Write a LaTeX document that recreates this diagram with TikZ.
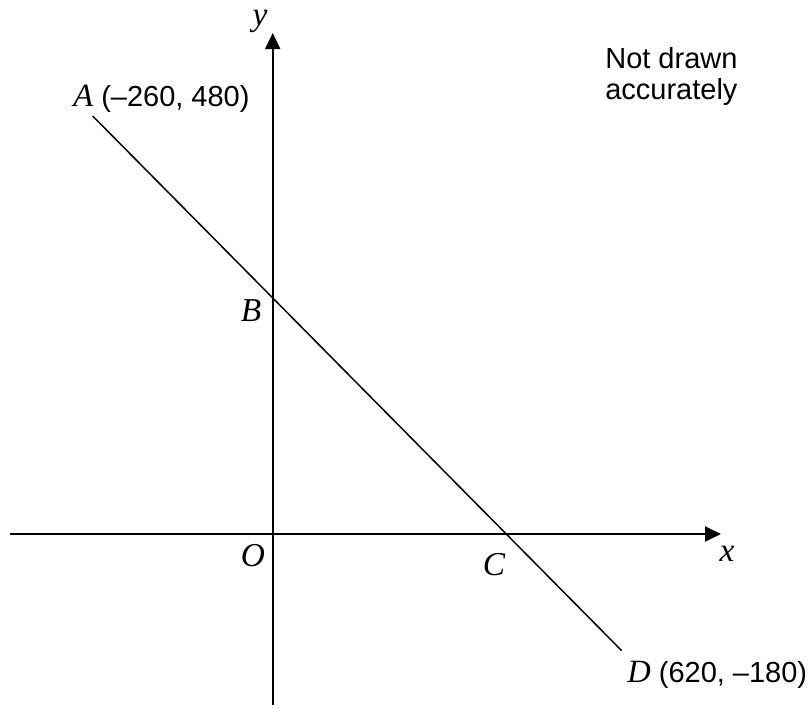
\documentclass[tikz,border=0pt]{standalone}
\usepackage{fontspec}
\setmainfont{Liberation Sans}
\newfontfamily\tnr{Liberation Serif}
\usetikzlibrary{arrows.meta,positioning}
\newcommand{\pt}[1]{{\tnr\itshape #1}}
\newcommand{\bigpt}[1]{{\fontsize{18.5}{18}\tnr\itshape #1}}

\begin{document}
\begin{tikzpicture}[
	x=0.02cm, y=-0.02cm,
	every node/.style={font=\fontsize{16.5}{18}\selectfont, inner sep=0pt},
	axis/.style={line width=1.1pt, -{Triangle[length=0.32cm, width=0.3cm]}},
	seg/.style={line width=0.85pt},
	lab/.style={anchor=center, font=\fontsize{19}{22}\selectfont}
	]
	\useasboundingbox (0,0) rectangle (811,707);
	
	% axes
	\coordinate (xl) at (10,534);
	\coordinate (xr) at (721,534);
	\coordinate (yb) at (272.7,705);
	\coordinate (yt) at (272.7,33);
	\draw[axis] (xl) -- (xr);
	\draw[axis] (yb) -- (yt);
	
	% the line through A and D
	\coordinate (A) at (92.7,116);
	\coordinate (D) at (621.7,650.7);
	\coordinate (B) at (272.7,298);
	\coordinate (C) at (506,534);
	\draw[seg] (A) -- (D);
	
	% labels
	\node[lab] (ylab) at (260,21) {\pt{y}};
	\node[lab] (xlab) at (727,554) {\pt{x}};
	\node[lab] (Olab) at (253,556) {\pt{O}};
	\node[lab] (Blab) at (251,311) {\pt{B}};
	\node[lab] (Clab) at (494,565) {\pt{C}};
	\node[anchor=base west] (Alab) at (73,106) {\bigpt{A} (--260, 480)};
	\node[anchor=base west] (Dlab) at (627,682) {\bigpt{D} (620, --180)};
	\node[anchor=north west, align=left] (note) at (605,47) {Not drawn\\accurately};
	
\end{tikzpicture}
\end{document}
